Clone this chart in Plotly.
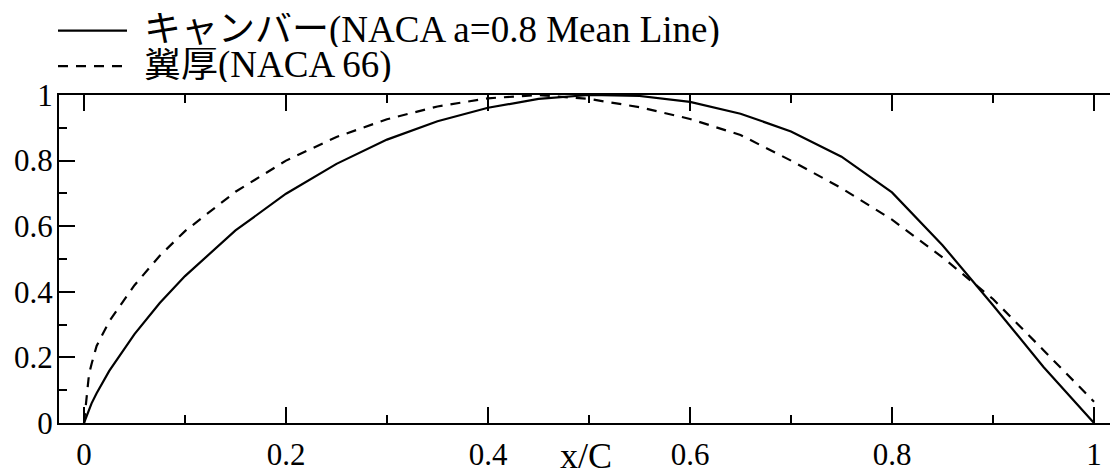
import plotly.graph_objects as go

# ---- data ----
x_c = [0, 0.005, 0.0075, 0.0125, 0.025, 0.05, 0.075, 0.1, 0.15, 0.2, 0.25, 0.3,
       0.35, 0.4, 0.45, 0.5, 0.55, 0.6, 0.65, 0.7, 0.75, 0.8, 0.85, 0.9, 0.95, 1.0]
camber = [0, 0.042, 0.060, 0.091, 0.159, 0.271, 0.366, 0.448, 0.587, 0.699, 0.790,
          0.864, 0.920, 0.961, 0.988, 1.0, 0.997, 0.979, 0.943, 0.889, 0.812, 0.703,
          0.542, 0.359, 0.171, 0]
thickness = [0, 0.15, 0.18, 0.235, 0.31, 0.42, 0.51, 0.585, 0.705, 0.80, 0.872,
             0.926, 0.965, 0.99, 1.0, 0.988, 0.963, 0.927, 0.878, 0.80, 0.716, 0.62,
             0.505, 0.378, 0.222, 0.065]
series_names = ["キャンバー(NACA a=0.8 Mean Line)", "翼厚(NACA 66)"]
x_title = "x/C"

W, H = 1110, 472
L, R, T, B = 59, 0, 95, 36
FONT = "'Liberation Serif', 'Times New Roman', 'Noto Sans CJK JP', serif"
dashes = ["solid", "10px,8px"]

fig = go.Figure()
for yv, name, dsh in zip([camber, thickness], series_names, dashes):
    fig.add_trace(go.Scatter(x=x_c, y=yv, mode="lines", name=name, showlegend=False,
                             line=dict(color="black", width=2.2, dash=dsh)))

common = dict(showgrid=False, zeroline=False, linecolor="black", linewidth=2,
              ticks="inside", tickcolor="black", tickwidth=2, ticklen=16,
              tickfont=dict(family=FONT, size=31, color="black"))

fig.update_layout(
    width=W, height=H,
    margin=dict(l=L, r=R, t=T, b=B),
    plot_bgcolor="white", paper_bgcolor="white",
    font=dict(family=FONT, color="black"),
    xaxis=dict(range=[-0.02475, 1.01584], dtick=0.2, tick0=0, showline=True,
               mirror="allticks",
               minor=dict(dtick=0.1, tick0=0, ticks="inside", ticklen=8,
                          tickwidth=2, tickcolor="black"),
               ticklabelstandoff=3,
               **common),
    yaxis=dict(range=[0, 1], dtick=0.2, tick0=0, showline=True, mirror=False,
               minor=dict(dtick=0.1, tick0=0, ticks="inside", ticklen=8,
                          tickwidth=2, tickcolor="black"),
               ticklabelstandoff=-2,
               **common),
    yaxis2=dict(range=[0, 1], dtick=0.2, tick0=0, overlaying="y", side="right",
                showline=False, showgrid=False, zeroline=False, ticks="inside",
                ticklen=7, tickwidth=2, tickcolor="black", showticklabels=False),
    showlegend=False,
)

# manual legend (line samples + labels), placed in paper coordinates
legend_rows_py = [28, 65]
def px_to_paper_x(px):
    return (px - L) / (W - L - R)
def px_to_paper_y(py):
    return (H - B - py) / (H - T - B)

for name, dsh, py in zip(series_names, dashes, legend_rows_py):
    fig.add_shape(type="line", xref="paper", yref="paper",
                  x0=px_to_paper_x(58), x1=px_to_paper_x(127),
                  y0=px_to_paper_y(py), y1=px_to_paper_y(py),
                  line=dict(color="black", width=2.2, dash=dsh))
    fig.add_annotation(text=name, xref="paper", yref="paper",
                       x=px_to_paper_x(142), y=px_to_paper_y(py - 1),
                       xanchor="left", yanchor="middle", showarrow=False,
                       height=34, valign="middle",
                       font=dict(family=FONT, size=37, color="black"))

fig.add_annotation(text=x_title, xref="paper", yref="paper",
                   x=px_to_paper_x(586), y=px_to_paper_y(470),
                   xanchor="center", yanchor="middle", showarrow=False,
                   font=dict(family=FONT, size=36, color="black"))

fig.write_html("out.html")
